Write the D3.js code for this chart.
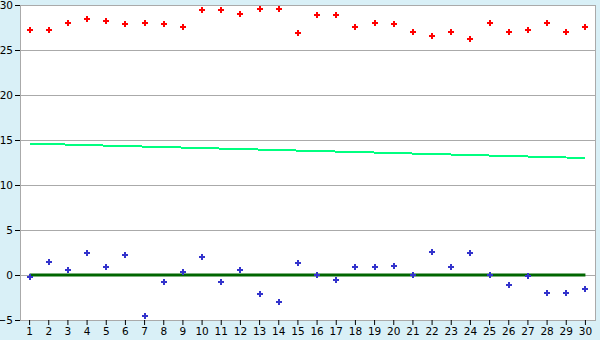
<!DOCTYPE html>
<html>
<head>
<meta charset="utf-8">
<script src="https://cdn.jsdelivr.net/npm/d3@7"></script>
<style>
  html, body { margin: 0; padding: 0; background: #d9f0f7; }
  svg { display: block; }
</style>
</head>
<body>
<div id="chart"></div>
<script>
// 資料
const days = d3.range(1, 31)
const redValues = [27.2, 27.2, 28.0, 28.4, 28.2, 27.9, 28.0, 27.9, 27.6, 29.4,
  29.4, 29.0, 29.5, 29.6, 26.9, 28.9, 28.9, 27.5, 28.0, 27.9,
  27.0, 26.6, 27.0, 26.2, 28.0, 27.0, 27.2, 28.0, 27.0, 27.5]
const blueValues = [-0.2, 1.4, 0.6, 2.4, 0.9, 2.2, -4.5, -0.8, 0.3, 2.0,
  -0.8, 0.6, -2.1, -3.0, 1.3, 0.0, -0.6, 0.9, 0.9, 1.0,
  0.0, 2.6, 0.9, 2.4, 0.0, -1.1, -0.1, -2.0, -2.0, -1.5]
const trendDays = [1, 30]
const trendValues = [14.6, 13.0]
const zeroDays = [1, 30]
const zeroValues = [0, 0]
const yTicks = [-5, 0, 5, 10, 15, 20, 25, 30]

const width = 600
const height = 340
const margin = { top: 5, right: 5, bottom: 20, left: 20 }

const svg = d3.select('#chart')
  .append('svg')
  .attr('width', width)
  .attr('height', height)

// 比例尺
const x = d3.scaleBand()
  .domain(days)
  .range([margin.left, width - margin.right])

const y = d3.scaleLinear()
  .domain([-5, 30])
  .range([height - margin.bottom, margin.top])

const cx = d => x(d) + x.bandwidth() / 2

// 繪圖區
svg.append('rect')
  .attr('x', margin.left)
  .attr('y', margin.top)
  .attr('width', width - margin.left - margin.right)
  .attr('height', height - margin.top - margin.bottom)
  .attr('fill', '#fff')

// 格線
svg.append('g')
  .selectAll('line')
  .data(yTicks)
  .join('line')
  .attr('x1', margin.left)
  .attr('x2', width - margin.right)
  .attr('y1', d => Math.round(y(d)) + 0.5)
  .attr('y2', d => Math.round(y(d)) + 0.5)
  .attr('stroke', '#aaa')

// 左 / 右邊框
svg.append('line')
  .attr('x1', margin.left + 0.5).attr('x2', margin.left + 0.5)
  .attr('y1', margin.top).attr('y2', height - margin.bottom)
  .attr('stroke', '#aaa')
svg.append('line')
  .attr('x1', width - margin.right + 0.5).attr('x2', width - margin.right + 0.5)
  .attr('y1', margin.top).attr('y2', height - margin.bottom + 1)
  .attr('stroke', '#aaa')

const tickFont = sel => sel
  .attr('fill', '#000')
  .style('font-family', 'DejaVu Sans, Verdana, sans-serif')
  .style('font-size', '10.5px')

// y 軸
const yAxis = svg.append('g')
  .attr('transform', `translate(${margin.left},0)`)
  .call(d3.axisLeft(y).tickValues(yTicks).tickSize(5).tickPadding(2))
yAxis.select('.domain').remove()
yAxis.selectAll('.tick line').attr('stroke', '#000')
yAxis.selectAll('text').call(tickFont)

// x 軸
const xAxis = svg.append('g')
  .attr('transform', `translate(0,${height - margin.bottom})`)
  .call(d3.axisBottom(x).tickSize(5).tickPadding(3))
xAxis.select('.domain').remove()
xAxis.selectAll('.tick line').attr('stroke', '#000')
xAxis.selectAll('text').call(tickFont)

// 線條
const line = d3.line().x(d => cx(d[0])).y(d => y(d[1]))

svg.append('path')
  .datum(d3.zip(trendDays, trendValues))
  .attr('d', line)
  .attr('fill', 'none')
  .attr('stroke', '#00ff80')
  .attr('stroke-width', 2)
  .attr('shape-rendering', 'crispEdges')

svg.append('path')
  .datum(d3.zip(zeroDays, zeroValues))
  .attr('d', line)
  .attr('fill', 'none')
  .attr('stroke', '#006600')
  .attr('stroke-width', 3)

// 點 (十字)
const marker = 'M-1,-3H1V-1H3V1H1V3H-1V1H-3V-1H-1Z'
const px = v => Math.round(v)

svg.append('g')
  .selectAll('path')
  .data(d3.zip(days, redValues))
  .join('path')
  .attr('d', marker)
  .attr('transform', d => `translate(${px(cx(d[0]))},${px(y(d[1]))})`)
  .attr('fill', '#ff0000')

svg.append('g')
  .selectAll('path')
  .data(d3.zip(days, blueValues))
  .join('path')
  .attr('d', marker)
  .attr('transform', d => `translate(${px(cx(d[0]))},${px(y(d[1]))})`)
  .attr('fill', '#3333cc')
</script>
</body>
</html>
